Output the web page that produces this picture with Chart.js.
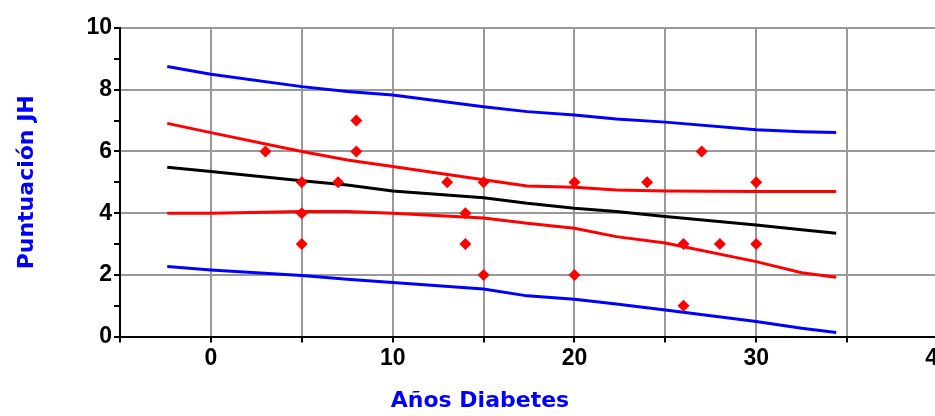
<!DOCTYPE html>
<html>
<head>
<meta charset="utf-8">
<script src="https://cdn.jsdelivr.net/npm/chart.js@4"></script>
<style>
    html, body { margin: 0; padding: 0; overflow: hidden; background: #fff; }
</style>
</head>
<body>
<canvas id="chart" width="960" height="416"></canvas>
<script>
// scatter points
const pointX = [3, 5, 5, 5, 7, 8, 8, 13, 14, 14, 15, 15, 20, 20, 24, 26, 26, 27, 28, 30, 30];
const pointY = [6, 5, 4, 3, 5, 7, 6, 5, 4, 3, 5, 2, 5, 2, 5, 3, 1, 6, 3, 5, 3];

// regression line and bands
const lineX = [-2.4, 0, 5, 7.5, 10, 15, 17.4, 20, 22.3, 25, 30, 32.5, 34.4];
const blueUpper = [8.75, 8.50, 8.10, 7.94, 7.83, 7.45, 7.29, 7.18, 7.05, 6.95, 6.70, 6.64, 6.61];
const redUpper = [6.91, 6.61, 6.00, 5.72, 5.51, 5.08, 4.88, 4.84, 4.75, 4.72, 4.70, 4.70, 4.70];
const fitLine = [5.49, 5.35, 5.05, 4.91, 4.72, 4.50, 4.32, 4.16, 4.05, 3.89, 3.62, 3.46, 3.35];
const redLower = [4.00, 4.00, 4.05, 4.05, 4.00, 3.84, 3.67, 3.51, 3.24, 3.03, 2.43, 2.07, 1.92];
const blueLower = [2.27, 2.16, 1.98, 1.86, 1.75, 1.54, 1.32, 1.21, 1.06, 0.86, 0.49, 0.27, 0.13];

const xLabels = [0, 10, 20, 30, 40];
const yLabels = [0, 2, 4, 6, 8, 10];

const toXY = (xs, ys) => xs.map((x, i) => ({ x: x, y: ys[i] }));

function lineSet(values, color) {
    return {
        data: toXY(lineX, values),
        showLine: true,
        borderColor: color,
        borderWidth: 3,
        pointRadius: 0,
        tension: 0
    };
}

const tickFont = { family: "'Liberation Sans', Arial, sans-serif", size: 23, weight: 'bold' };
const titleFont = { family: "'DejaVu Sans', Verdana, sans-serif", size: 22, weight: 'bold' };

const ctx = document.getElementById("chart").getContext("2d");
new Chart(ctx, {
    type: "scatter",
    data: {
        datasets: [
            {
                data: toXY(pointX, pointY),
                pointStyle: 'rectRot',
                pointRadius: 6,
                backgroundColor: '#ff0000',
                borderColor: '#ff0000',
                borderWidth: 0
            },
            lineSet(fitLine, '#000000'),
            lineSet(redUpper, '#ff0000'),
            lineSet(redLower, '#ff0000'),
            lineSet(blueUpper, '#0000ff'),
            lineSet(blueLower, '#0000ff')
        ]
    },
    options: {
        responsive: false,
        animation: false,
        devicePixelRatio: 1,
        layout: { padding: { top: 28, right: 22, bottom: 0, left: 22 } },
        plugins: {
            legend: { display: false },
            tooltip: { enabled: false },
            title: {
                display: true,
                position: 'bottom',
                text: 'Años Diabetes',
                color: '#0000ff',
                font: titleFont,
                padding: { top: 8, bottom: 2 }
            }
        },
        scales: {
            x: {
                type: 'linear',
                min: -5,
                max: 40,
                afterFit: s => { s.height = 43; },
                border: { color: '#000', width: 2 },
                grid: {
                    color: '#999',
                    lineWidth: 2,
                    tickColor: '#000',
                    tickWidth: 2,
                    tickLength: 6
                },
                ticks: {
                    stepSize: 5,
                    padding: 2,
                    color: '#000',
                    font: tickFont,
                    maxRotation: 0,
                    autoSkip: false,
                    callback: v => xLabels.includes(v) ? String(v) : ''
                }
            },
            y: {
                min: 0,
                max: 10,
                afterFit: s => { s.width = 98; },
                border: { color: '#000', width: 2 },
                grid: {
                    color: c => yLabels.includes(c.tick.value) ? '#999' : 'rgba(0,0,0,0)',
                    lineWidth: 2,
                    tickColor: '#000',
                    tickWidth: 2,
                    tickLength: 6
                },
                ticks: {
                    stepSize: 1,
                    padding: 2,
                    color: '#000',
                    font: tickFont,
                    autoSkip: false,
                    callback: v => yLabels.includes(v) ? String(v) : ''
                },
                title: {
                    display: true,
                    text: 'Puntuación JH',
                    color: '#0000ff',
                    font: titleFont,
                    padding: { top: -8, bottom: 0 }
                }
            }
        }
    }
});
</script>
</body>
</html>
